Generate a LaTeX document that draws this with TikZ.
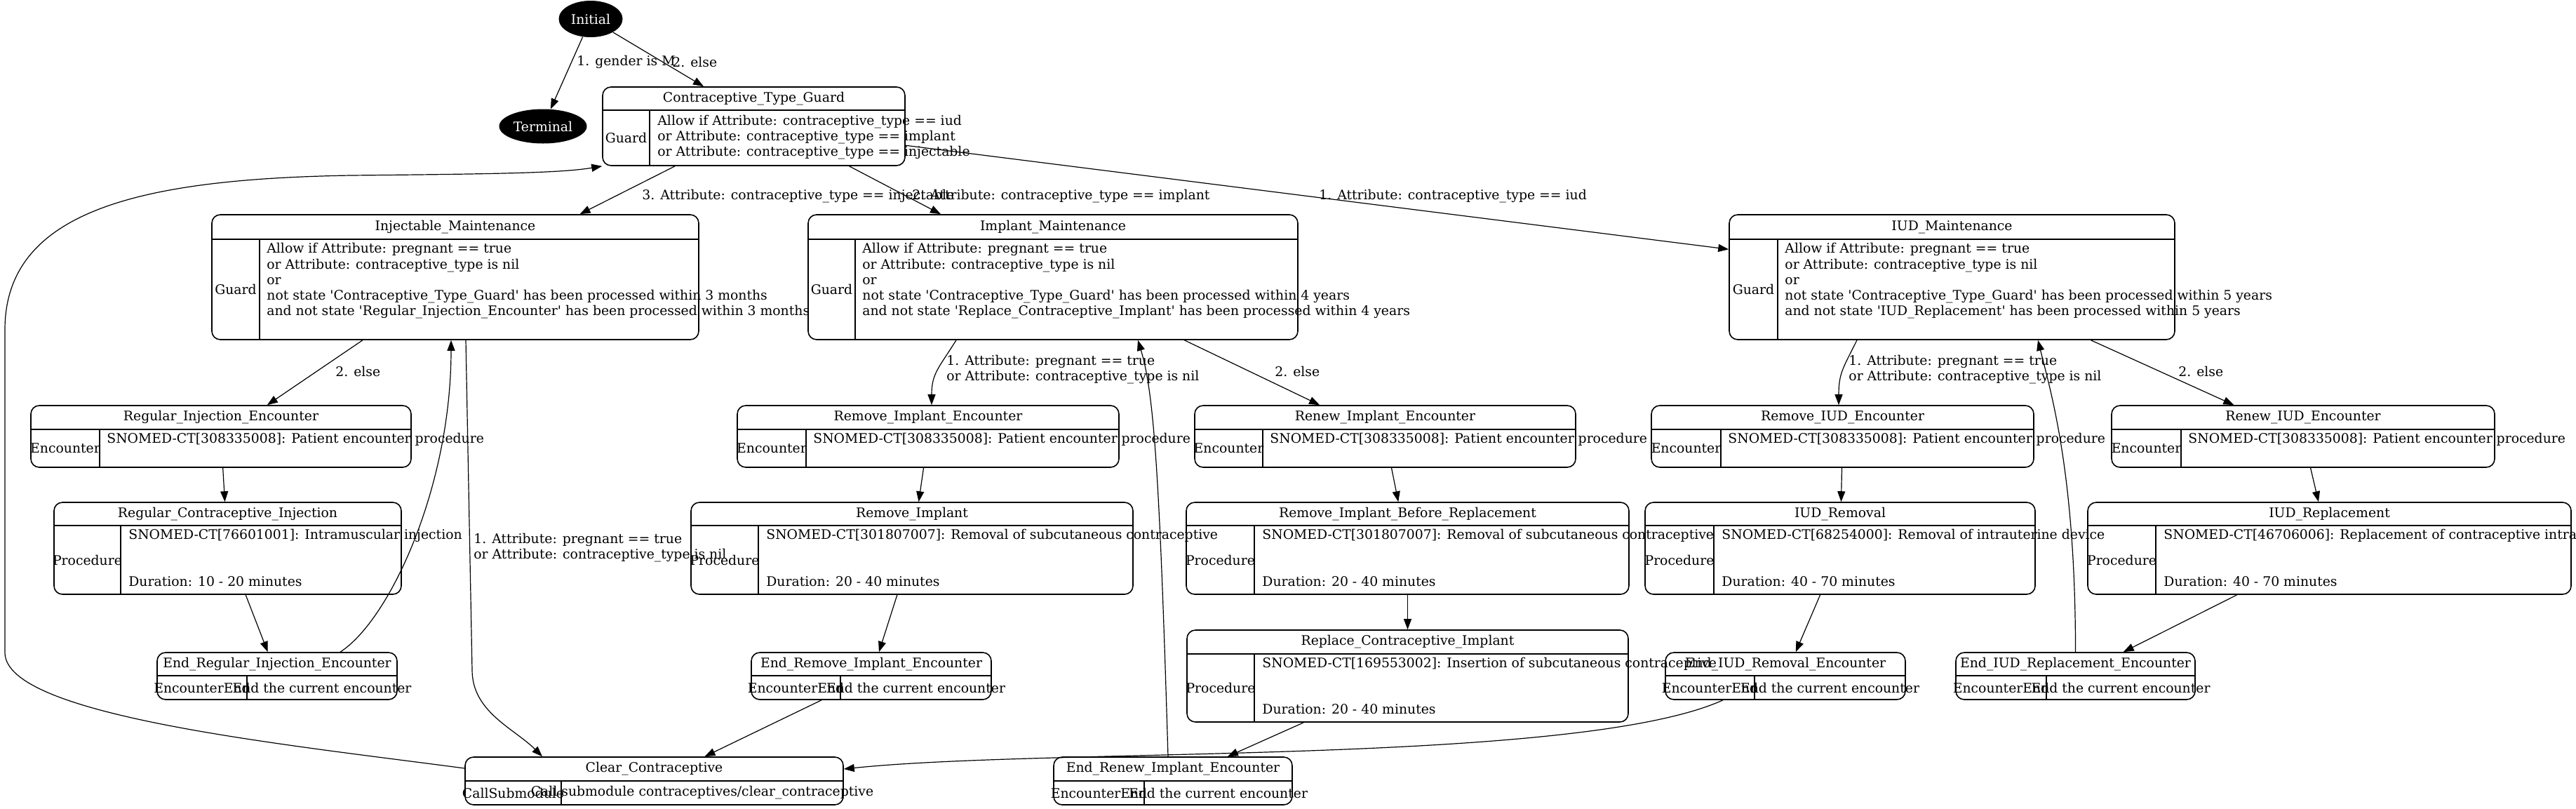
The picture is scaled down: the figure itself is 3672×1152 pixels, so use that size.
\documentclass[tikz,border=0pt]{standalone}
\usepackage{fontspec}
\setmainfont{DejaVu Serif}
\usetikzlibrary{arrows.meta, shapes.geometric, fit}

\newcommand{\sq}{\textquotesingle}
% record state: name, x1, y1, x2, y2, title line, separator, title, kind
\newcommand{\mrecord}[9]{%
  \node[mrec, fit={(#2,#3) (#4,#5)}] (#1) {};
  \draw[cell] (#2,#6) -- (#4,#6) (#7,#6) -- (#7,#5);
  \node[txt] (#1-title) at ({(#2+#4)/2},{(#3+#6)/2}) {#8};
  \node[txt] (#1-kind) at ({(#2+#7)/2},{(#6+#5)/2}) {#9};
}

\tikzset{
  txt/.style={inner sep=0pt, font=\fontsize{9.4pt}{11.1pt}\selectfont},
  body/.style={txt, anchor=west, align=left,
    execute at begin node=\strut, execute at end node=\strut},
  mrec/.style={draw, line width=0.8pt, rounded corners=6pt, inner sep=0pt},
  cell/.style={line width=0.6pt},
  startend/.style={ellipse, fill=black, text=white, txt},
  trans/.style={draw, line width=0.6pt, -{Triangle[length=7.5pt, width=5.5pt]}},
  lbl/.style={txt, anchor=west},
}

\begin{document}
\begin{tikzpicture}[x=0.5pt, y=-0.5pt]
\useasboundingbox (0,0) rectangle (3672,1152);

\node[startend, minimum width=45.5pt, minimum height=26pt] (init) at (842,27) {Initial};
\node[startend, minimum width=62.5pt, minimum height=24.5pt] (term) at (774,180) {Terminal};

% guard
\mrecord{guard}{859}{124}{1290}{236}{157}{926}{Contraceptive\_Type\_Guard}{Guard}
\node[body] (guard-txt) at (937,196.5) {Allow if Attribute: contraceptive\_type == iud\\or Attribute: contraceptive\_type == implant\\or Attribute: contraceptive\_type == injectable};

% maintenance guards
\mrecord{inj}{302}{306}{996}{484}{341}{370}{Injectable\_Maintenance}{Guard}
\node[body] (inj-txt) at (380,412.5) {Allow if Attribute: pregnant == true\\or Attribute: contraceptive\_type is nil\\or\\not state \sq Contraceptive\_Type\_Guard\sq{} has been processed within 3 months\\and not state \sq Regular\_Injection\_Encounter\sq{} has been processed within 3 months\\\mbox{}};
\mrecord{impl}{1152}{306}{1850}{484}{341}{1219}{Implant\_Maintenance}{Guard}
\node[body] (impl-txt) at (1229,412.5) {Allow if Attribute: pregnant == true\\or Attribute: contraceptive\_type is nil\\or\\not state \sq Contraceptive\_Type\_Guard\sq{} has been processed within 4 years\\and not state \sq Replace\_Contraceptive\_Implant\sq{} has been processed within 4 years\\\mbox{}};
\mrecord{iud}{2465}{306}{3100}{484}{341}{2534}{IUD\_Maintenance}{Guard}
\node[body] (iud-txt) at (2544,412.5) {Allow if Attribute: pregnant == true\\or Attribute: contraceptive\_type is nil\\or\\not state \sq Contraceptive\_Type\_Guard\sq{} has been processed within 5 years\\and not state \sq IUD\_Replacement\sq{} has been processed within 5 years\\\mbox{}};

% encounters
\mrecord{regenc}{44}{578}{586}{666}{612}{142}{Regular\_Injection\_Encounter}{Encounter}
\node[body] (regenc-txt) at (152,639) {SNOMED-CT[308335008]: Patient encounter procedure\\\mbox{}};
\mrecord{remimplenc}{1051}{578}{1595}{666}{612}{1149}{Remove\_Implant\_Encounter}{Encounter}
\node[body] (remimplenc-txt) at (1159,639) {SNOMED-CT[308335008]: Patient encounter procedure\\\mbox{}};
\mrecord{renimplenc}{1703}{578}{2246}{666}{612}{1800}{Renew\_Implant\_Encounter}{Encounter}
\node[body] (renimplenc-txt) at (1810,639) {SNOMED-CT[308335008]: Patient encounter procedure\\\mbox{}};
\mrecord{remiudenc}{2354}{578}{2899}{666}{612}{2453}{Remove\_IUD\_Encounter}{Encounter}
\node[body] (remiudenc-txt) at (2463,639) {SNOMED-CT[308335008]: Patient encounter procedure\\\mbox{}};
\mrecord{reniudenc}{3010}{578}{3556}{666}{612}{3109}{Renew\_IUD\_Encounter}{Encounter}
\node[body] (reniudenc-txt) at (3119,639) {SNOMED-CT[308335008]: Patient encounter procedure\\\mbox{}};

% procedures
\mrecord{regshot}{77}{716}{572}{847}{749}{172}{Regular\_Contraceptive\_Injection}{Procedure}
\node[body] (regshot-txt) at (183,798) {SNOMED-CT[76601001]: Intramuscular injection\\\mbox{}\\\mbox{}\\Duration: 10 - 20 minutes};
\mrecord{remimpl}{985}{716}{1615}{847}{749}{1081}{Remove\_Implant}{Procedure}
\node[body] (remimpl-txt) at (1092,798) {SNOMED-CT[301807007]: Removal of subcutaneous contraceptive\\\mbox{}\\\mbox{}\\Duration: 20 - 40 minutes};
\mrecord{remimplrep}{1691}{716}{2322}{847}{749}{1788}{Remove\_Implant\_Before\_Replacement}{Procedure}
\node[body] (remimplrep-txt) at (1799,798) {SNOMED-CT[301807007]: Removal of subcutaneous contraceptive\\\mbox{}\\\mbox{}\\Duration: 20 - 40 minutes};
\mrecord{iudrem}{2345}{716}{2901}{847}{749}{2443}{IUD\_Removal}{Procedure}
\node[body] (iudrem-txt) at (2454,798) {SNOMED-CT[68254000]: Removal of intrauterine device\\\mbox{}\\\mbox{}\\Duration: 40 - 70 minutes};
\mrecord{iudrep}{2976}{716}{3665}{847}{749}{3073}{IUD\_Replacement}{Procedure}
\node[body] (iudrep-txt) at (3084,798) {SNOMED-CT[46706006]: Replacement of contraceptive intrauterine device\\\mbox{}\\\mbox{}\\Duration: 40 - 70 minutes};
\mrecord{repimpl}{1692}{898}{2321}{1029}{932}{1788}{Replace\_Contraceptive\_Implant}{Procedure}
\node[body] (repimpl-txt) at (1799,980.5) {SNOMED-CT[169553002]: Insertion of subcutaneous contraceptive\\\mbox{}\\\mbox{}\\Duration: 20 - 40 minutes};

% encounter ends and submodule
\mrecord{endreg}{224}{930}{566}{997}{963}{352}{End\_Regular\_Injection\_Encounter}{EncounterEnd}
\node[txt] (endreg-txt) at (459,980) {End the current encounter};
\mrecord{endremimpl}{1071}{930}{1413}{997}{963}{1198}{End\_Remove\_Implant\_Encounter}{EncounterEnd}
\node[txt] (endremimpl-txt) at (1305.5,980) {End the current encounter};
\mrecord{endiudrem}{2374}{930}{2716}{997}{963}{2501}{End\_IUD\_Removal\_Encounter}{EncounterEnd}
\node[txt] (endiudrem-txt) at (2608.5,980) {End the current encounter};
\mrecord{endiudrep}{2788}{930}{3129}{997}{963}{2917}{End\_IUD\_Replacement\_Encounter}{EncounterEnd}
\node[txt] (endiudrep-txt) at (3023,980) {End the current encounter};
\mrecord{endrenimpl}{1502}{1079}{1842}{1147}{1113}{1631}{End\_Renew\_Implant\_Encounter}{EncounterEnd}
\node[txt] (endrenimpl-txt) at (1736.5,1130) {End the current encounter};
\mrecord{clear}{663}{1079}{1202}{1147}{1113}{800}{Clear\_Contraceptive}{CallSubmodule}
\node[txt] (clear-txt) at (1001,1130) {Call submodule contraceptives/clear\_contraceptive};

% transitions
\draw[trans] (init) -- (term);
\draw[trans] (init) -- ([xshift=-35.75pt]guard.north);
\draw[trans] (guard) -- (inj);
\draw[trans] ([xshift=68pt]guard.south) -- ([xshift=-80pt]impl.north);
\draw[trans] (guard) -- (iud);
\draw[trans] (inj) -- (regenc);
\draw[trans] ([xshift=7.5pt]inj.south) -- ++(9,470) .. controls +(0,60) and +(-40,-40) .. ([xshift=-79.75pt]clear.north);
\draw[trans] (regenc) -- (regshot);
\draw[trans] (regshot) -- (endreg);
\draw[trans] ([xshift=45pt]endreg.north) .. controls +(70,-45) and +(0,210) .. ([xshift=-3pt]inj.south);
\draw[trans] ([yshift=9pt]clear.west) .. controls +(-263,-35) and +(0,90) .. (7,930) -- (7,470)
  .. controls +(0,-170) and +(-300,5) .. (500,250) .. controls +(200,-2) and +(-60,10) .. (guard.south west);
\draw[trans] ([xshift=-69pt]impl.south) .. controls +(-25,40) and +(0,-45) .. ([xshift=2.5pt]remimplenc.north);
\draw[trans] (impl) -- (renimplenc);
\draw[trans] (remimplenc) -- (remimpl);
\draw[trans] (renimplenc) -- (remimplrep);
\draw[trans] (remimpl) -- (endremimpl);
\draw[trans] (remimplrep) -- (repimpl);
\draw[trans] (repimpl) -- (endrenimpl);
\draw[trans] ([xshift=-3.5pt]endrenimpl.north) .. controls +(-12,-400) and +(23,75) .. ([xshift=60.5pt]impl.south);
\draw[trans] (endremimpl) -- (clear);
\draw[trans] ([xshift=-67.75pt]iud.south) .. controls +(-20,40) and +(0,-45) .. ([xshift=-2.75pt]remiudenc.north);
\draw[trans] (iud) -- (reniudenc);
\draw[trans] (remiudenc) -- (iudrem);
\draw[trans] (reniudenc) -- (iudrep);
\draw[trans] (iudrem) -- (endiudrem);
\draw[trans] (iudrep) -- (endiudrep);
\draw[trans] (endiudrep.north) .. controls +(0,-250) and +(20,80) .. ([xshift=61.25pt]iud.south);
\draw[trans] ([xshift=-44.5pt]endiudrem.south) .. controls +(-206,93) and +(298,-31) .. ([yshift=8.5pt]clear.east);

% transition labels
\node[lbl] (l-male) at (822,88) {1. gender is M};
\node[lbl] (l-else0) at (958,88) {2. else};
\node[lbl] (l-inj) at (915,280) {3. Attribute: contraceptive\_type == injectable};
\node[lbl] (l-impl) at (1300,280) {2. Attribute: contraceptive\_type == implant};
\node[lbl] (l-iud) at (1880,280) {1. Attribute: contraceptive\_type == iud};
\node[lbl] (l-else1) at (478,529) {2. else};
\node[lbl] (l-else2) at (1817,529) {2. else};
\node[lbl] (l-else3) at (3105,529) {2. else};
\node[body] (l-preg1) at (675,781.5) {1. Attribute: pregnant == true\\or Attribute: contraceptive\_type is nil};
\node[body] (l-preg2) at (1349,528) {1. Attribute: pregnant == true\\or Attribute: contraceptive\_type is nil};
\node[body] (l-preg3) at (2635,528) {1. Attribute: pregnant == true\\or Attribute: contraceptive\_type is nil};
\end{tikzpicture}
\end{document}
